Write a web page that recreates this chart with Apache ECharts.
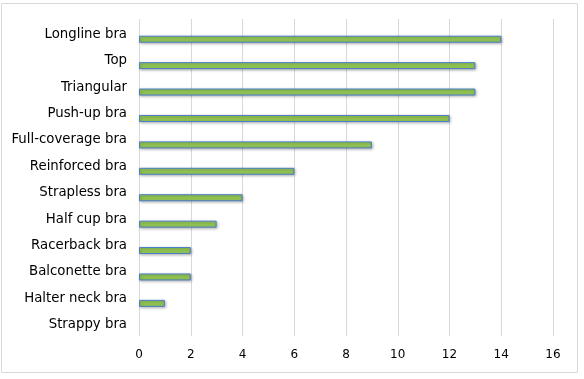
<!DOCTYPE html>
<html><head><meta charset="utf-8">
<script src="https://cdn.jsdelivr.net/npm/echarts@6/dist/echarts.min.js"></script>
<style>html,body{margin:0;padding:0;background:#fff}#c{width:584px;height:379px;}</style>
</head><body><div id="c"></div>
<script>
const categories = ["Longline bra","Top","Triangular","Push-up bra","Full-coverage bra","Reinforced bra","Strapless bra","Half cup bra","Racerback bra","Balconette bra","Halter neck bra","Strappy bra"];
const values = [14,13,13,12,9,6,4,3,2,2,1,0];
const xTicks = {min:0,max:16,interval:2};
const font = "'DejaVu Sans', Verdana, sans-serif";
const chart = echarts.init(document.getElementById('c'));
chart.setOption({
  animation:false,
  graphic:[{type:'rect',shape:{x:1.5,y:3.5,width:576,height:369},style:{fill:'none',stroke:'#d9d9d9',lineWidth:1}}],
  grid:{left:139,right:31,top:19,bottom:43},
  xAxis:{type:'value',min:xTicks.min,max:xTicks.max,interval:xTicks.interval,
    axisLine:{show:false},axisTick:{show:false},
    splitLine:{lineStyle:{color:'#d9d9d9',width:1}},
    axisLabel:{color:'#000',fontFamily:font,fontSize:12,margin:13}},
  yAxis:{type:'category',data:categories,inverse:true,
    axisLine:{show:false},axisTick:{show:false},
    axisLabel:{color:'#000',fontFamily:font,fontSize:13.3,margin:12,verticalAlign:'top',lineHeight:4}},
  series:[
    {type:'bar',data:categories.map(()=>null),barWidth:7,barGap:'100%'},
    {type:'bar',data:values.map(v=>v===0?{value:v,itemStyle:{borderWidth:0,shadowBlur:0,shadowOffsetX:0,shadowOffsetY:0}}:v),barWidth:7,barGap:'100%',
     itemStyle:{color:'#92c553',borderColor:'#4a7ec8',borderWidth:1,shadowColor:'rgba(0,0,0,0.3)',shadowBlur:3,shadowOffsetX:1,shadowOffsetY:1}}
  ]
});
</script></body></html>
